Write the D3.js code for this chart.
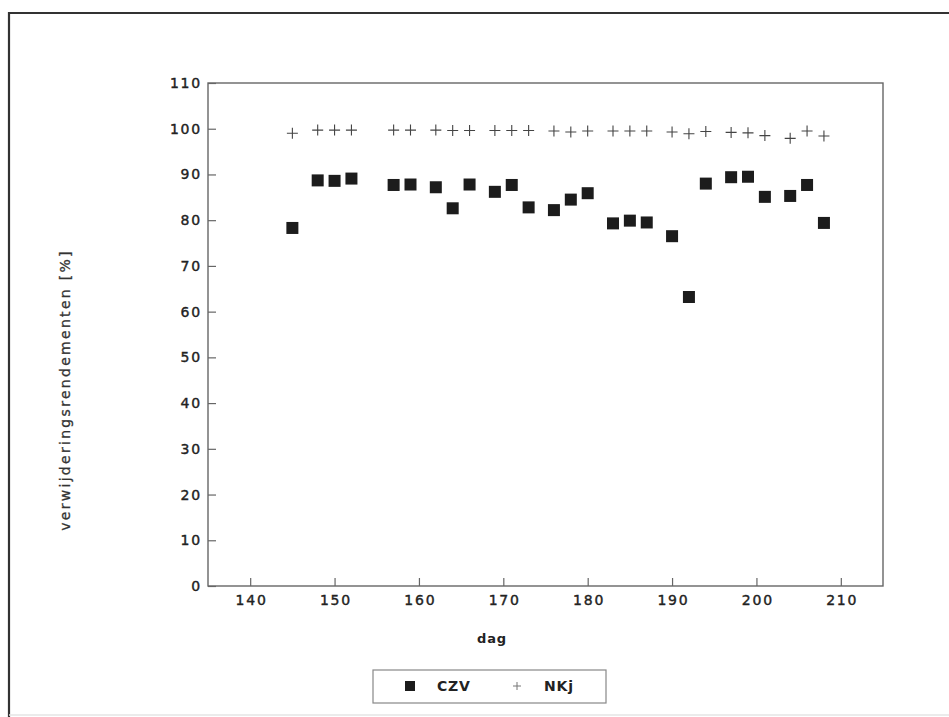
<!DOCTYPE html>
<html>
<head>
<meta charset="utf-8">
<script src="https://cdn.jsdelivr.net/npm/d3@7/dist/d3.min.js"></script>
<style>
  html, body { margin: 0; padding: 0; background: #ffffff; }
  svg { display: block; }
</style>
</head>
<body>
<svg id="chart" width="949" height="717"></svg>
<script>
// Measurement days
const days = [145, 148, 150, 152, 157, 159, 162, 164, 166, 169, 171, 173, 176, 178, 180,
              183, 185, 187, 190, 192, 194, 197, 199, 201, 204, 206, 208];
// Removal efficiencies [%]
const czv = [78.3, 88.7, 88.6, 89.1, 87.7, 87.8, 87.2, 82.6, 87.8, 86.2, 87.7, 82.8, 82.2, 84.5, 85.9,
             79.3, 79.9, 79.5, 76.5, 63.2, 88.0, 89.4, 89.5, 85.1, 85.3, 87.7, 79.4];
const nkj = [99.0, 99.7, 99.7, 99.7, 99.7, 99.7, 99.7, 99.6, 99.6, 99.6, 99.6, 99.6, 99.5, 99.3, 99.5,
             99.5, 99.5, 99.5, 99.3, 98.9, 99.4, 99.2, 99.1, 98.5, 97.9, 99.5, 98.4];
const xTicks = [140, 150, 160, 170, 180, 190, 200, 210];
const yTicks = [0, 10, 20, 30, 40, 50, 60, 70, 80, 90, 100, 110];
const seriesNames = ["CZV", "NKj"];

const svg = d3.select("#chart");
const plotL = 208, plotR = 883, plotT = 83, plotB = 586;

const x = d3.scaleLinear().domain([135, 215]).range([plotL, plotR]);
const y = d3.scaleLinear().domain([0, 110]).range([plotB, plotT]);

const font = "'DejaVu Sans', 'Liberation Sans', sans-serif";

// Outer page frame
svg.append("path")
  .attr("d", "M9,717 L9,13 L949,13")
  .attr("fill", "none").attr("stroke", "#333").attr("stroke-width", 2.2);
svg.append("line")
  .attr("x1", 9).attr("x2", 949).attr("y1", 715).attr("y2", 715)
  .attr("stroke", "#e4e4e4").attr("stroke-width", 1.5);

// Plot frame
svg.append("rect")
  .attr("x", plotL).attr("y", plotT)
  .attr("width", plotR - plotL).attr("height", plotB - plotT)
  .attr("fill", "none").attr("stroke", "#666").attr("stroke-width", 1.4);

// Axes with inward ticks
const xAxis = d3.axisBottom(x).tickValues(xTicks).tickSizeInner(-8).tickSizeOuter(0).tickPadding(9);
const yAxis = d3.axisLeft(y).tickValues(yTicks).tickSizeInner(-8).tickSizeOuter(0).tickPadding(6);

const gx = svg.append("g").attr("transform", `translate(0,${plotB})`).call(xAxis);
const gy = svg.append("g").attr("transform", `translate(${plotL},0)`).call(yAxis);

[gx, gy].forEach(g => {
  g.select(".domain").remove();
  g.selectAll(".tick line").attr("stroke", "#666").attr("stroke-width", 1.2);
  g.selectAll(".tick text")
    .attr("fill", "#222")
    .attr("stroke", "#222").attr("stroke-width", 0.4)
    .style("font-family", font)
    .style("font-size", "14px")
    .style("letter-spacing", "1.8px");
});
// keep centred labels centred despite the trailing letter-spacing
gx.selectAll(".tick text").attr("dx", "0.9px");

// Axis titles
svg.append("text")
  .attr("x", 492).attr("y", 643)
  .attr("text-anchor", "middle")
  .attr("fill", "#222")
  .style("font-family", font).style("font-size", "13px").style("font-weight", "bold")
  .style("letter-spacing", "0.8px")
  .text("dag");

svg.append("text")
  .attr("transform", "translate(70,390) rotate(-90)")
  .attr("text-anchor", "middle")
  .attr("fill", "#333")
  .attr("stroke", "#333").attr("stroke-width", 0.3)
  .style("font-family", font).style("font-size", "14px")
  .style("letter-spacing", "2.3px")
  .text("verwijderingsrendementen  [%]");

// Data marks
const sq = 12, pl = 5.5;
svg.append("g").selectAll("rect")
  .data(days.map((d, i) => ({ day: d, v: czv[i] })))
  .join("rect")
  .attr("x", d => x(d.day) - sq / 2)
  .attr("y", d => y(d.v) - sq / 2)
  .attr("width", sq).attr("height", sq)
  .attr("fill", "#1c1c1c");

const plusPath = `M${-pl},0 L${pl},0 M0,${-pl} L0,${pl}`;
svg.append("g").selectAll("path")
  .data(days.map((d, i) => ({ day: d, v: nkj[i] })))
  .join("path")
  .attr("transform", d => `translate(${x(d.day)},${y(d.v)})`)
  .attr("d", plusPath)
  .attr("fill", "none").attr("stroke", "#444").attr("stroke-width", 1.1);

// Legend
const lg = svg.append("g");
lg.append("rect")
  .attr("x", 373).attr("y", 670).attr("width", 233).attr("height", 33)
  .attr("fill", "#fff").attr("stroke", "#888").attr("stroke-width", 1.2);
lg.append("rect")
  .attr("x", 410 - 5).attr("y", 686 - 5).attr("width", 10).attr("height", 10)
  .attr("fill", "#1c1c1c");
lg.append("path")
  .attr("transform", "translate(517,686)")
  .attr("d", "M-4,0 L4,0 M0,-4 L0,4")
  .attr("fill", "none").attr("stroke", "#777").attr("stroke-width", 1);
lg.selectAll("text.lab")
  .data(seriesNames)
  .join("text")
  .attr("class", "lab")
  .attr("x", (d, i) => i === 0 ? 437 : 544)
  .attr("y", 691)
  .attr("fill", "#222")
  .style("font-family", font).style("font-size", "14px").style("font-weight", "bold")
  .style("letter-spacing", "0.8px")
  .text(d => d);
</script>
</body>
</html>
